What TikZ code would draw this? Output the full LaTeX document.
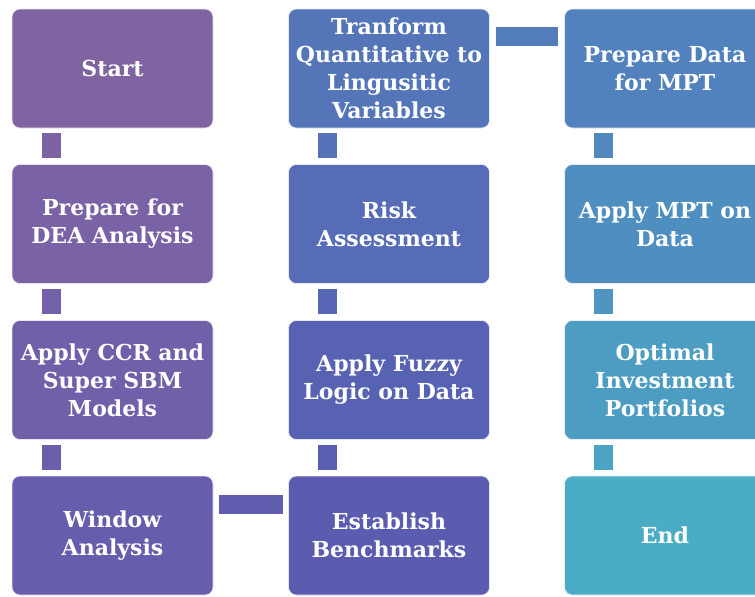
\documentclass[tikz,border=0pt]{standalone}
\usepackage{fontspec}
\setmainfont{DejaVu Serif}
\begin{document}
% step colours run from purple to aqua along the process
\definecolor{s0}{RGB}{128,100,162}
\definecolor{s1}{RGB}{121,98,166}
\definecolor{s2}{RGB}{112,95,169}
\definecolor{s3}{RGB}{102,93,172}
\definecolor{s4}{RGB}{91,91,176}
\definecolor{s5}{RGB}{88,98,179}
\definecolor{s6}{RGB}{86,108,182}
\definecolor{s7}{RGB}{84,118,185}
\definecolor{s8}{RGB}{82,130,189}
\definecolor{s9}{RGB}{79,143,192}
\definecolor{s10}{RGB}{77,157,195}
\definecolor{s11}{RGB}{75,172,198}
\begin{tikzpicture}[x=1pt,y=-1pt,
  stepbox/.style={fill=#1, draw=white!85!#1, line width=0.6pt, rounded corners=8pt,
    minimum width=201pt, minimum height=119pt, inner sep=0pt,
    text=white, align=center,
    font=\fontsize{22}{28}\selectfont\bfseries},
  link/.style={draw=#1, line width=19pt}]
\useasboundingbox (0,0) rectangle (755,597);
\clip (0,0) rectangle (755,597);

% first column
\node[stepbox=s0]  (start) at (112.5,68.5) {Start};
\node[stepbox=s1]  (dea)   at (112.5,224)  {Prepare for\\DEA Analysis};
\node[stepbox=s2]  (ccr)   at (112.5,380)  {Apply CCR and\\Super SBM\\Models};
\node[stepbox=s3]  (win)   at (112.5,535.5){Window\\Analysis};
% second column
\node[stepbox=s4]  (bench) at (389,535.5)  {Establish\\Benchmarks};
\node[stepbox=s5]  (fuzzy) at (389,380)    {Apply Fuzzy\\Logic on Data};
\node[stepbox=s6]  (risk)  at (389,224)    {Risk\\Assessment};
\node[stepbox=s7]  (ling)  at (389,68.5)   {Tranform\\Quantitative to\\Lingusitic\\Variables};
% third column
\node[stepbox=s8]  (mptd)  at (665,68.5)   {Prepare Data\\for MPT};
\node[stepbox=s9]  (mpt)   at (665,224)    {Apply MPT on\\Data};
\node[stepbox=s10] (opt)   at (665,380)    {Optimal\\Investment\\Portfolios};
\node[stepbox=s11] (fin)   at (665,535.5)  {End};

% vertical links
\draw[link=s0!50!s1, shorten <=5pt, shorten >=6pt]
  ([xshift=39.5pt]start.south west) -- ([xshift=39.5pt]dea.north west);
\draw[link=s1!50!s2, shorten <=5pt, shorten >=6pt]
  ([xshift=39.5pt]dea.south west) -- ([xshift=39.5pt]ccr.north west);
\draw[link=s2!50!s3, shorten <=5pt, shorten >=6pt]
  ([xshift=39.5pt]ccr.south west) -- ([xshift=39.5pt]win.north west);
\draw[link=s4!50!s5, shorten <=6pt, shorten >=5pt]
  ([xshift=39.5pt]bench.north west) -- ([xshift=39.5pt]fuzzy.south west);
\draw[link=s5!50!s6, shorten <=6pt, shorten >=5pt]
  ([xshift=39.5pt]fuzzy.north west) -- ([xshift=39.5pt]risk.south west);
\draw[link=s6!50!s7, shorten <=6pt, shorten >=5pt]
  ([xshift=39.5pt]risk.north west) -- ([xshift=39.5pt]ling.south west);
\draw[link=s8!50!s9, shorten <=5pt, shorten >=6pt]
  ([xshift=39.5pt]mptd.south west) -- ([xshift=39.5pt]mpt.north west);
\draw[link=s9!50!s10, shorten <=5pt, shorten >=6pt]
  ([xshift=39.5pt]mpt.south west) -- ([xshift=39.5pt]opt.north west);
\draw[link=s10!50!s11, shorten <=5pt, shorten >=6pt]
  ([xshift=39.5pt]opt.south west) -- ([xshift=39.5pt]fin.north west);

% horizontal links between columns
\draw[link=s3!50!s4, shorten <=6pt, shorten >=5pt]
  ([yshift=-28.5pt]win.north east) -- ([yshift=-28.5pt]bench.north west);
\draw[link=s7!50!s8, shorten <=6pt, shorten >=6pt]
  ([yshift=-27.5pt]ling.north east) -- ([yshift=-27.5pt]mptd.north west);
\end{tikzpicture}
\end{document}
